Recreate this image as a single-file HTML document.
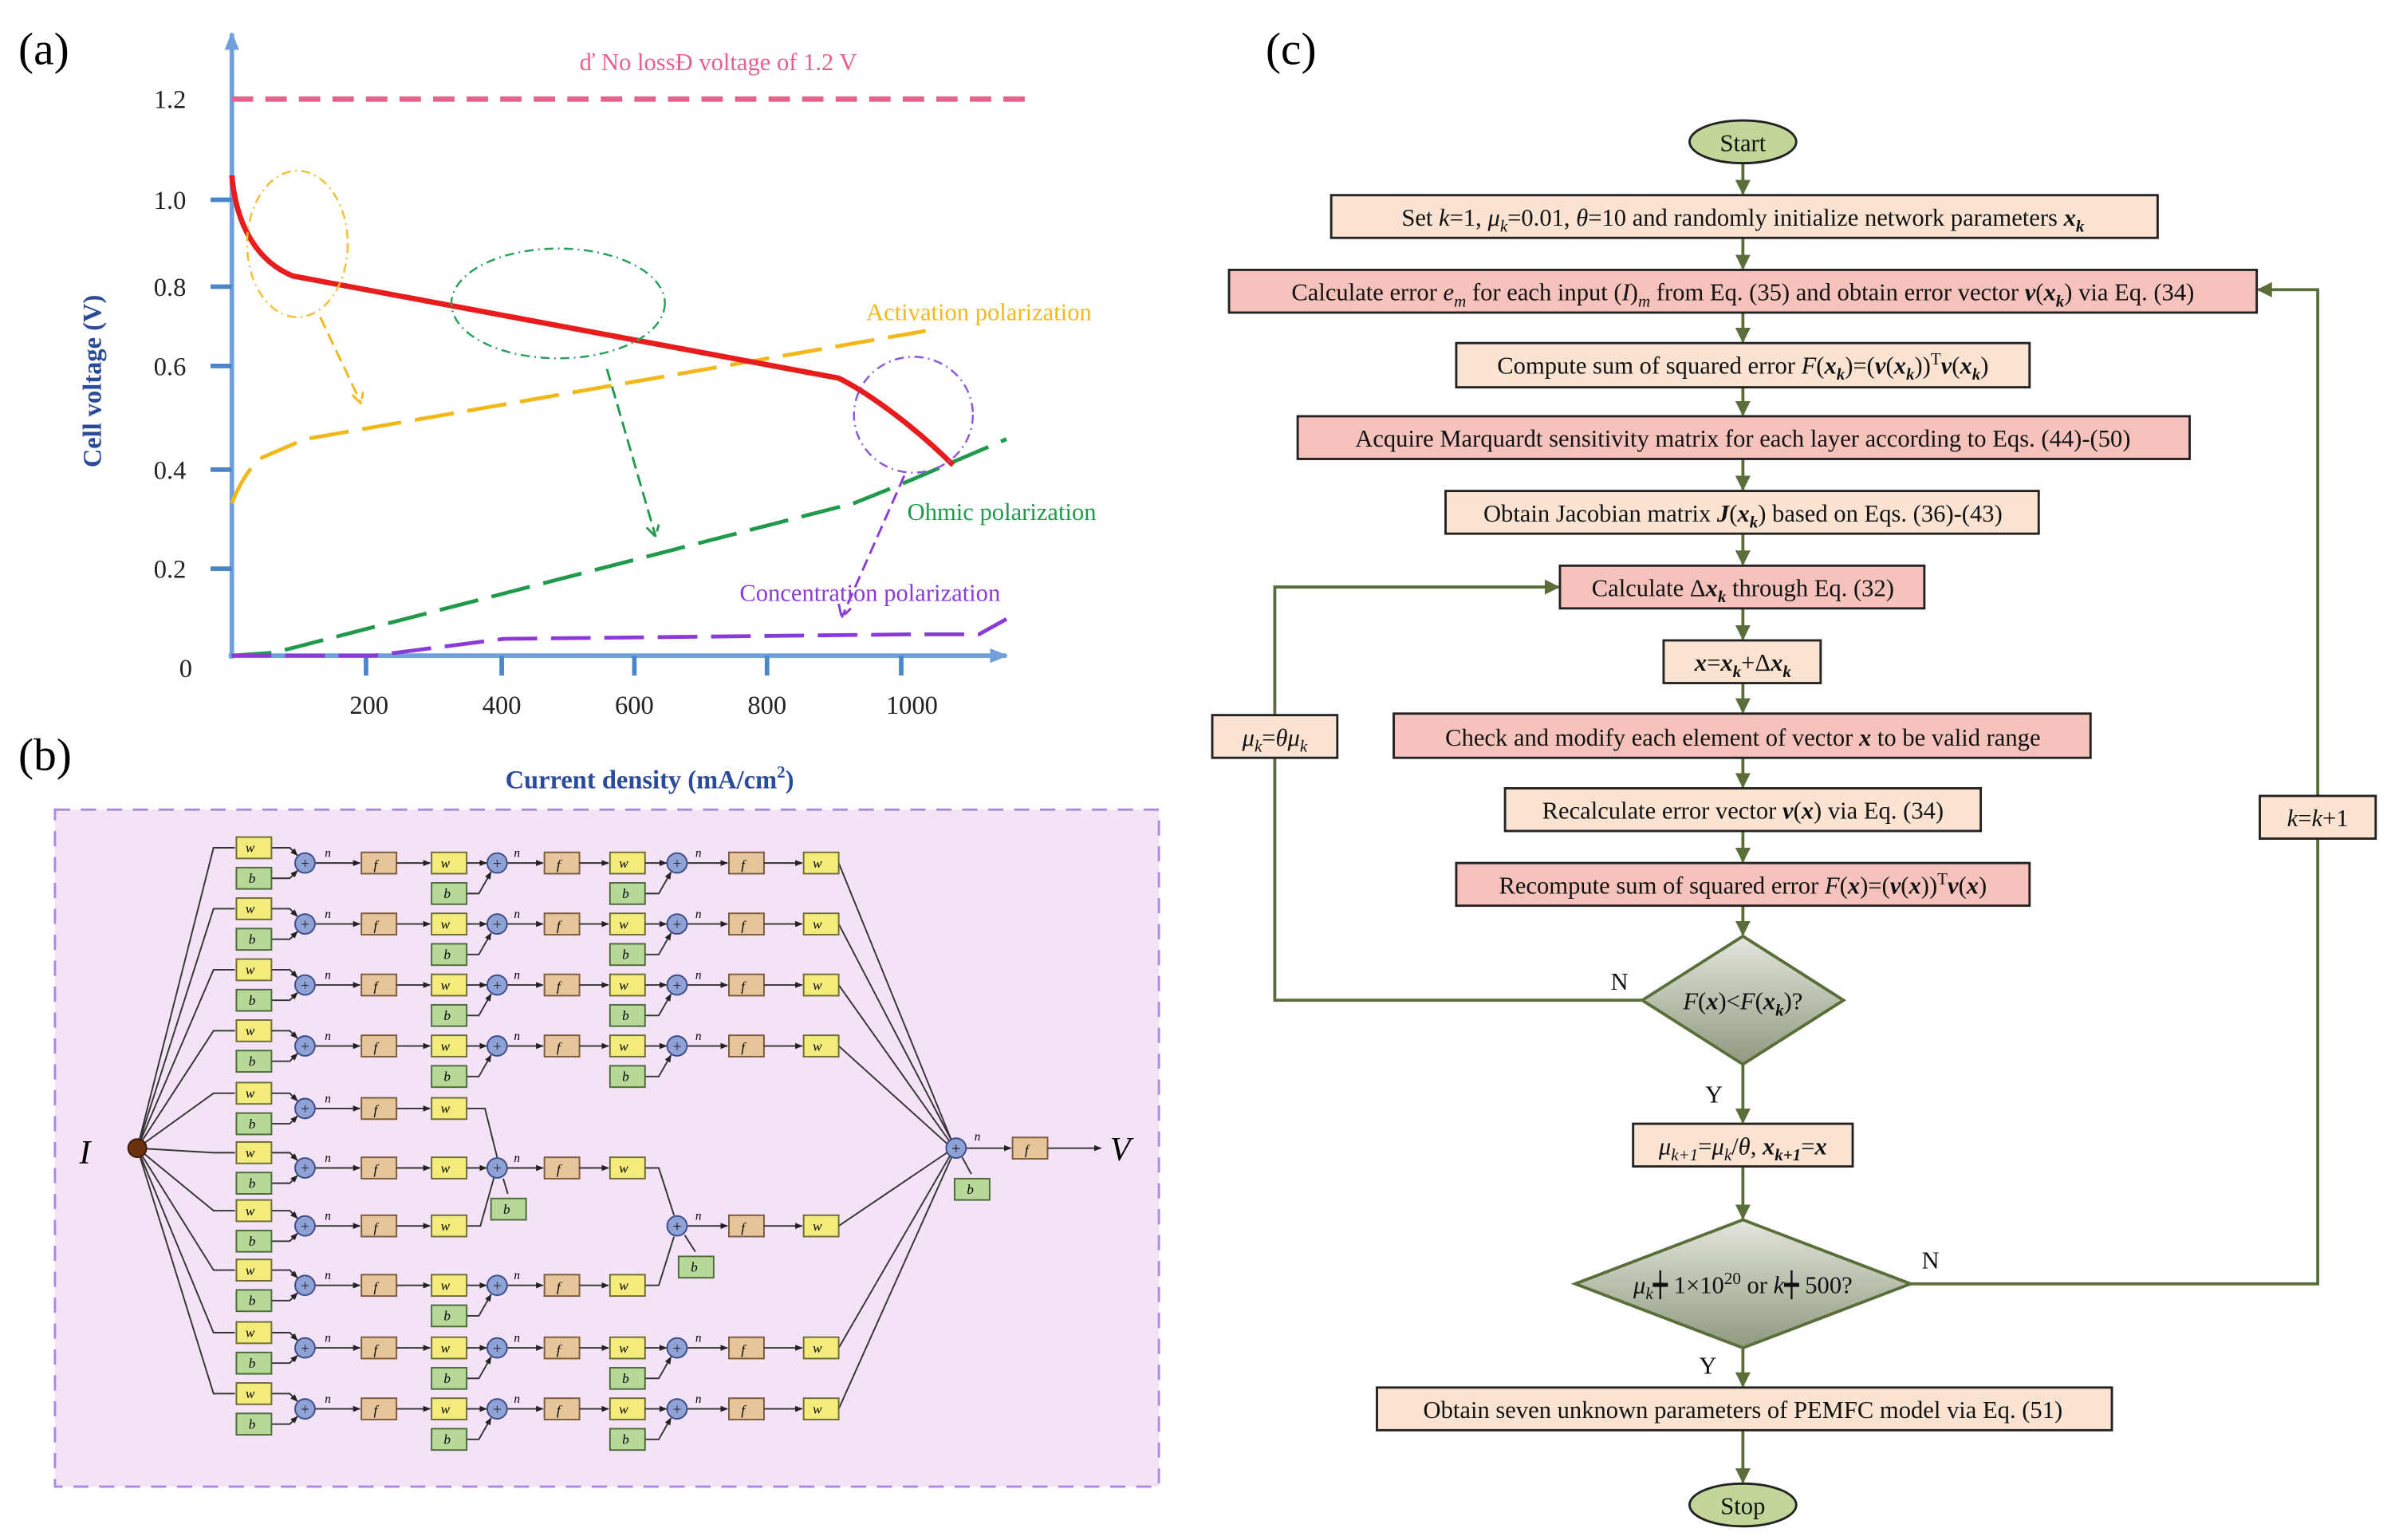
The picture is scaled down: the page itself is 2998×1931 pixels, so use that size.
<!DOCTYPE html>
<html><head><meta charset="utf-8"><style>
html,body{margin:0;padding:0;background:#fff}
svg{display:block}
text{font-family:"Liberation Serif",serif}
</style></head><body>
<svg width="2998" height="1931" viewBox="0 0 1568 1010" xmlns="http://www.w3.org/2000/svg">
<defs>
<marker id="ab" viewBox="0 0 10 10" refX="9" refY="5" markerWidth="4" markerHeight="4" orient="auto"><path d="M0,1 L10,5 L0,9z" fill="#6fa0dc"/></marker>
<marker id="ak" viewBox="0 0 10 10" refX="9" refY="5" markerWidth="5" markerHeight="5" orient="auto"><path d="M0,1 L10,5 L0,9z" fill="#222"/></marker>
<marker id="ag" viewBox="0 0 10 10" refX="9" refY="5" markerWidth="5" markerHeight="5" orient="auto"><path d="M0,0 L10,5 L0,10z" fill="#5a6e3a"/></marker>
<linearGradient id="dg" x1="0" y1="0" x2="0" y2="1"><stop offset="0" stop-color="#e3e6dc"/><stop offset="1" stop-color="#8f9a80"/></linearGradient>
<g id="gin">
 <polyline points="178,-10 190,-10 195,-5" fill="none" stroke="#333" stroke-width="1" marker-end="url(#ak)"/>
 <polyline points="178,10 190,10 195,5" fill="none" stroke="#333" stroke-width="1" marker-end="url(#ak)"/>
 <rect x="155" y="-17" width="23" height="14" fill="#f4ec7a" stroke="#6b6b3a" stroke-width="1"/>
 <text x="161" y="-7" font-size="9" font-style="italic">w</text>
 <rect x="155" y="3" width="23" height="14" fill="#b6d99a" stroke="#4a6a3a" stroke-width="1"/>
 <text x="163" y="13" font-size="9" font-style="italic">b</text>
 <circle cx="200" cy="0" r="6.5" fill="#8ea2d6" stroke="#3a4a8a" stroke-width="1"/>
 <text x="200" y="3.5" font-size="10" text-anchor="middle" fill="#223">+</text>
 <text x="213" y="-4" font-size="8" font-style="italic">n</text>
 <line x1="207" y1="0" x2="236" y2="0" stroke="#333" stroke-width="1" marker-end="url(#ak)"/>
 <rect x="237" y="-7" width="23" height="14" fill="#e6c59b" stroke="#7a5a3a" stroke-width="1"/>
 <text x="245" y="4" font-size="9" font-style="italic">f</text>
 <line x1="260" y1="0" x2="282" y2="0" stroke="#333" stroke-width="1" marker-end="url(#ak)"/>
</g>
<g id="gw2">
 <rect x="283" y="-7" width="23" height="14" fill="#f4ec7a" stroke="#6b6b3a" stroke-width="1"/>
 <text x="289" y="3" font-size="9" font-style="italic">w</text>
</g>
<g id="gb2">
 <polyline points="306,20 314,20 322,6" fill="none" stroke="#333" stroke-width="1" marker-end="url(#ak)"/>
 <rect x="283" y="13" width="23" height="14" fill="#b6d99a" stroke="#4a6a3a" stroke-width="1"/>
 <text x="291" y="23" font-size="9" font-style="italic">b</text>
</g>
<g id="gp2">
 <line x1="306" y1="0" x2="319" y2="0" stroke="#333" stroke-width="1" marker-end="url(#ak)"/>
 <circle cx="326" cy="0" r="6.5" fill="#8ea2d6" stroke="#3a4a8a" stroke-width="1"/>
 <text x="326" y="3.5" font-size="10" text-anchor="middle" fill="#223">+</text>
 <text x="337" y="-4" font-size="8" font-style="italic">n</text>
 <line x1="333" y1="0" x2="356" y2="0" stroke="#333" stroke-width="1" marker-end="url(#ak)"/>
 <rect x="357" y="-7" width="23" height="14" fill="#e6c59b" stroke="#7a5a3a" stroke-width="1"/>
 <text x="365" y="4" font-size="9" font-style="italic">f</text>
 <line x1="380" y1="0" x2="399" y2="0" stroke="#333" stroke-width="1" marker-end="url(#ak)"/>
 <rect x="400" y="-7" width="23" height="14" fill="#f4ec7a" stroke="#6b6b3a" stroke-width="1"/>
 <text x="406" y="3" font-size="9" font-style="italic">w</text>
</g>
<g id="g3">
 <line x1="423" y1="0" x2="437" y2="0" stroke="#333" stroke-width="1" marker-end="url(#ak)"/>
 <polyline points="423,20 432,20 440,6" fill="none" stroke="#333" stroke-width="1" marker-end="url(#ak)"/>
 <rect x="400" y="13" width="23" height="14" fill="#b6d99a" stroke="#4a6a3a" stroke-width="1"/>
 <text x="408" y="23" font-size="9" font-style="italic">b</text>
 <circle cx="444" cy="0" r="6.5" fill="#8ea2d6" stroke="#3a4a8a" stroke-width="1"/>
 <text x="444" y="3.5" font-size="10" text-anchor="middle" fill="#223">+</text>
 <text x="456" y="-4" font-size="8" font-style="italic">n</text>
 <line x1="451" y1="0" x2="477" y2="0" stroke="#333" stroke-width="1" marker-end="url(#ak)"/>
 <rect x="478" y="-7" width="23" height="14" fill="#e6c59b" stroke="#7a5a3a" stroke-width="1"/>
 <text x="486" y="4" font-size="9" font-style="italic">f</text>
 <line x1="501" y1="0" x2="526" y2="0" stroke="#333" stroke-width="1" marker-end="url(#ak)"/>
 <rect x="527" y="-7" width="23" height="14" fill="#f4ec7a" stroke="#6b6b3a" stroke-width="1"/>
 <text x="533" y="3" font-size="9" font-style="italic">w</text>
</g>
</defs>

<!-- Panel (a) -->
<text x="12" y="42" font-size="30">(a)</text>
<line x1="152" y1="432" x2="152" y2="22" stroke="#6fa0dc" stroke-width="3" marker-end="url(#ab)"/>
<line x1="150" y1="430" x2="660" y2="430" stroke="#6fa0dc" stroke-width="3" marker-end="url(#ab)"/>
<g stroke="#4a86c8" stroke-width="3">
<line x1="138" y1="131" x2="152" y2="131"/><line x1="138" y1="188" x2="152" y2="188"/><line x1="138" y1="240" x2="152" y2="240"/><line x1="138" y1="308" x2="152" y2="308"/><line x1="138" y1="373" x2="152" y2="373"/>
<line x1="240" y1="430" x2="240" y2="443"/><line x1="329" y1="430" x2="329" y2="443"/><line x1="416" y1="430" x2="416" y2="443"/><line x1="503" y1="430" x2="503" y2="443"/><line x1="591" y1="430" x2="591" y2="443"/>
</g>
<g font-size="17" fill="#222" text-anchor="end">
<text x="122" y="71">1.2</text><text x="122" y="137">1.0</text><text x="122" y="194">0.8</text><text x="122" y="246">0.6</text><text x="122" y="314">0.4</text><text x="122" y="379">0.2</text><text x="126" y="444">0</text>
</g>
<g font-size="17" fill="#222" text-anchor="middle">
<text x="242" y="468">200</text><text x="329" y="468">400</text><text x="416" y="468">600</text><text x="503" y="468">800</text><text x="598" y="468">1000</text>
</g>
<text transform="translate(66,250) rotate(-90)" font-size="17" font-weight="bold" fill="#2a4a9a" text-anchor="middle">Cell voltage (V)</text>
<text x="426" y="517" font-size="17" font-weight="bold" fill="#2a4a9a" text-anchor="middle">Current density (mA/cm<tspan dy="-7" font-size="11">2</tspan><tspan dy="7">)</tspan></text>
<line x1="152" y1="65" x2="672" y2="65" stroke="#e8608a" stroke-width="3.5" stroke-dasharray="14,8"/>
<text x="380" y="46" font-size="16" fill="#e8608a">ď No lossĐ  voltage of 1.2 V</text>
<!-- curves -->
<path d="M152,330 C158,315 165,305 172,300 L200,288 L607,217" fill="none" stroke="#f2b81a" stroke-width="2.5" stroke-dasharray="26,9"/>
<path d="M152,430 L180,428 L560,330 L590,318 L660,288" fill="none" stroke="#1f9a4a" stroke-width="2.5" stroke-dasharray="26,9"/>
<path d="M152,430 L245,430 L330,419 L600,416 L642,416 L660,406" fill="none" stroke="#8a3ad8" stroke-width="2.5" stroke-dasharray="26,9"/>
<path d="M152,115 C155,150 170,172 192,181 L550,248 C570,258 600,280 625,305" fill="none" stroke="#e81c1c" stroke-width="3.5"/>
<ellipse cx="195" cy="160" rx="33" ry="48" fill="none" stroke="#f2c030" stroke-width="1.3" stroke-dasharray="6,3,1,3"/>
<ellipse cx="366" cy="199" rx="70" ry="36" fill="none" stroke="#2aa060" stroke-width="1.3" stroke-dasharray="6,3,1,3"/>
<ellipse cx="599" cy="272" rx="39" ry="38" fill="none" stroke="#8a5ad8" stroke-width="1.3" stroke-dasharray="6,3,1,3"/>
<path d="M210,208 L237,265 M231,259 L237,265 L238,257" fill="none" stroke="#f2b81a" stroke-width="1.5" stroke-dasharray="8,4"/>
<path d="M398,242 L430,352 M424,346 L430,352 L432,344" fill="none" stroke="#1f9a4a" stroke-width="1.5" stroke-dasharray="8,4"/>
<path d="M593,312 L552,405 M550,396 L552,405 L558,399" fill="none" stroke="#8a3ad8" stroke-width="1.5" stroke-dasharray="8,4"/>
<text x="568" y="210" font-size="16" fill="#f2b81a">Activation polarization</text>
<text x="595" y="341" font-size="16" fill="#1f9a4a">Ohmic polarization</text>
<text x="485" y="394" font-size="16" fill="#8a3ad8">Concentration polarization</text>

<!-- Panel (b) -->
<text x="12" y="505" font-size="30">(b)</text>
<rect x="36" y="531" width="724" height="444" fill="#f4e2f6" stroke="#a88ae0" stroke-width="1.5" stroke-dasharray="10,7"/>
<text x="52" y="763" font-size="22" font-style="italic">I</text>
<g stroke="#333" stroke-width="1" fill="none">
<polyline points="90,753 140,556 154,556"/><polyline points="90,753 140,596 154,596"/><polyline points="90,753 140,636 154,636"/><polyline points="90,753 140,676 154,676"/><polyline points="90,753 140,717 154,717"/><polyline points="90,753 140,756 154,756"/><polyline points="90,753 140,794 154,794"/><polyline points="90,753 140,833 154,833"/><polyline points="90,753 140,874 154,874"/><polyline points="90,753 140,914 154,914"/>
<!-- outputs to final sum -->
<line x1="550" y1="566" x2="624" y2="748"/><line x1="550" y1="606" x2="624" y2="748"/><line x1="550" y1="646" x2="623" y2="749"/><line x1="550" y1="686" x2="621" y2="750"/><line x1="550" y1="804" x2="621" y2="756"/><line x1="550" y1="884" x2="623" y2="758"/><line x1="550" y1="924" x2="624" y2="759"/>
<!-- row5/7 w2 to plus2 row6 -->
<polyline points="306,727 318,727 326,759"/><polyline points="306,804 315,804 324,772"/>
<!-- row6 W3 to plus3, row8 W3 to plus3 -->
<polyline points="423,766 432,766 442,797"/><polyline points="423,843 432,843 442,811"/>
<!-- b2 row6 -->
<polyline points="333,783 330,773"/>
<polyline points="456,821 449,810"/>
<polyline points="637,770 631,759"/>
</g>
<circle cx="90" cy="753" r="6" fill="#6a3010" stroke="#3a1a08"/>
<use href="#gin" transform="translate(0,566)"/><use href="#gw2" transform="translate(0,566)"/><use href="#gb2" transform="translate(0,566)"/><use href="#gp2" transform="translate(0,566)"/><use href="#g3" transform="translate(0,566)"/>
<use href="#gin" transform="translate(0,606)"/><use href="#gw2" transform="translate(0,606)"/><use href="#gb2" transform="translate(0,606)"/><use href="#gp2" transform="translate(0,606)"/><use href="#g3" transform="translate(0,606)"/>
<use href="#gin" transform="translate(0,646)"/><use href="#gw2" transform="translate(0,646)"/><use href="#gb2" transform="translate(0,646)"/><use href="#gp2" transform="translate(0,646)"/><use href="#g3" transform="translate(0,646)"/>
<use href="#gin" transform="translate(0,686)"/><use href="#gw2" transform="translate(0,686)"/><use href="#gb2" transform="translate(0,686)"/><use href="#gp2" transform="translate(0,686)"/><use href="#g3" transform="translate(0,686)"/>
<use href="#gin" transform="translate(0,727)"/><use href="#gw2" transform="translate(0,727)"/>
<use href="#gin" transform="translate(0,766)"/><use href="#gw2" transform="translate(0,766)"/><use href="#gp2" transform="translate(0,766)"/>
<rect x="322" y="786" width="23" height="14" fill="#b6d99a" stroke="#4a6a3a" stroke-width="1"/><text x="330" y="796" font-size="9" font-style="italic">b</text>
<use href="#gin" transform="translate(0,804)"/><use href="#gw2" transform="translate(0,804)"/>
<g transform="translate(0,804)">
 <circle cx="444" cy="0" r="6.5" fill="#8ea2d6" stroke="#3a4a8a" stroke-width="1"/>
 <text x="444" y="3.5" font-size="10" text-anchor="middle">+</text>
 <text x="456" y="-4" font-size="8" font-style="italic">n</text>
 <line x1="451" y1="0" x2="477" y2="0" stroke="#333" stroke-width="1" marker-end="url(#ak)"/>
 <rect x="478" y="-7" width="23" height="14" fill="#e6c59b" stroke="#7a5a3a" stroke-width="1"/>
 <text x="486" y="4" font-size="9" font-style="italic">f</text>
 <line x1="501" y1="0" x2="526" y2="0" stroke="#333" stroke-width="1" marker-end="url(#ak)"/>
 <rect x="527" y="-7" width="23" height="14" fill="#f4ec7a" stroke="#6b6b3a" stroke-width="1"/>
 <text x="533" y="3" font-size="9" font-style="italic">w</text>
 <rect x="445" y="20" width="23" height="14" fill="#b6d99a" stroke="#4a6a3a" stroke-width="1"/><text x="453" y="30" font-size="9" font-style="italic">b</text>
</g>
<use href="#gin" transform="translate(0,843)"/><use href="#gw2" transform="translate(0,843)"/><use href="#gb2" transform="translate(0,843)"/><use href="#gp2" transform="translate(0,843)"/>
<use href="#gin" transform="translate(0,884)"/><use href="#gw2" transform="translate(0,884)"/><use href="#gb2" transform="translate(0,884)"/><use href="#gp2" transform="translate(0,884)"/><use href="#g3" transform="translate(0,884)"/>
<use href="#gin" transform="translate(0,924)"/><use href="#gw2" transform="translate(0,924)"/><use href="#gb2" transform="translate(0,924)"/><use href="#gp2" transform="translate(0,924)"/><use href="#g3" transform="translate(0,924)"/>
<!-- final -->
<circle cx="627" cy="753" r="6.5" fill="#8ea2d6" stroke="#3a4a8a" stroke-width="1"/>
<text x="627" y="756.5" font-size="10" text-anchor="middle">+</text>
<text x="639" y="748" font-size="8" font-style="italic">n</text>
<line x1="634" y1="753" x2="663" y2="753" stroke="#333" stroke-width="1" marker-end="url(#ak)"/>
<rect x="664" y="746" width="23" height="14" fill="#e6c59b" stroke="#7a5a3a" stroke-width="1"/><text x="672" y="757" font-size="9" font-style="italic">f</text>
<line x1="687" y1="753" x2="722" y2="753" stroke="#333" stroke-width="1" marker-end="url(#ak)"/>
<rect x="626" y="773" width="23" height="14" fill="#b6d99a" stroke="#4a6a3a" stroke-width="1"/><text x="634" y="783" font-size="9" font-style="italic">b</text>
<text x="728" y="761" font-size="22" font-style="italic">V</text>

<!-- Panel (c) -->
<text x="830" y="42" font-size="30">(c)</text>
<g stroke="#5a6e3a" stroke-width="2" fill="none">
<line x1="1143" y1="107" x2="1143" y2="127" marker-end="url(#ag)"/>
<line x1="1143" y1="156" x2="1143" y2="176" marker-end="url(#ag)"/>
<line x1="1143" y1="205" x2="1143" y2="224" marker-end="url(#ag)"/>
<line x1="1143" y1="254" x2="1143" y2="272" marker-end="url(#ag)"/>
<line x1="1143" y1="301" x2="1143" y2="321" marker-end="url(#ag)"/>
<line x1="1143" y1="350" x2="1143" y2="370" marker-end="url(#ag)"/>
<line x1="1143" y1="399" x2="1143" y2="419" marker-end="url(#ag)"/>
<line x1="1143" y1="448" x2="1143" y2="467" marker-end="url(#ag)"/>
<line x1="1143" y1="497" x2="1143" y2="516" marker-end="url(#ag)"/>
<line x1="1143" y1="545" x2="1143" y2="565" marker-end="url(#ag)"/>
<line x1="1143" y1="594" x2="1143" y2="613" marker-end="url(#ag)"/>
<line x1="1143" y1="698" x2="1143" y2="736" marker-end="url(#ag)"/>
<line x1="1143" y1="765" x2="1143" y2="799" marker-end="url(#ag)"/>
<line x1="1143" y1="884" x2="1143" y2="909" marker-end="url(#ag)"/>
<line x1="1143" y1="938" x2="1143" y2="972" marker-end="url(#ag)"/>
<polyline points="1077,656 836,656 836,385 1022,385" marker-end="url(#ag)"/>
<polyline points="1253,842 1520,842 1520,190 1481,190" marker-end="url(#ag)"/>
</g>
<g stroke="#222" stroke-width="1.5" font-size="16">
<ellipse cx="1143" cy="93" rx="35" ry="14" fill="#c3d69a"/>
<rect x="873" y="128" width="542" height="28" fill="#fbe3d2"/>
<rect x="806" y="177" width="674" height="28" fill="#f5c3bb"/>
<rect x="955" y="225" width="376" height="29" fill="#fbe3d2"/>
<rect x="851" y="273" width="585" height="28" fill="#f5c3bb"/>
<rect x="948" y="322" width="389" height="28" fill="#fbe3d2"/>
<rect x="1023" y="371" width="239" height="28" fill="#f5c3bb"/>
<rect x="1091" y="420" width="103" height="28" fill="#fbe3d2"/>
<rect x="914" y="468" width="457" height="29" fill="#f5c3bb"/>
<rect x="987" y="517" width="312" height="28" fill="#fbe3d2"/>
<rect x="955" y="566" width="376" height="28" fill="#f5c3bb"/>
<rect x="795" y="469" width="82" height="28" fill="#fbe3d2"/>
<rect x="1482" y="522" width="76" height="28" fill="#fbe3d2"/>
<rect x="1071" y="737" width="144" height="28" fill="#fbe3d2"/>
<rect x="903" y="910" width="482" height="28" fill="#fbe3d2"/>
<ellipse cx="1143" cy="987" rx="35" ry="14" fill="#c3d69a"/>
</g>
<polygon points="1143,614 1209,656 1143,698 1077,656" fill="url(#dg)" stroke="#5a6e3a" stroke-width="2"/>
<polygon points="1143,800 1253,842 1143,884 1033,842" fill="url(#dg)" stroke="#5a6e3a" stroke-width="2"/>
<g font-size="16" fill="#111" text-anchor="middle">
<text x="1143" y="99">Start</text>
<text x="1143" y="148">Set <tspan font-style="italic">k</tspan>=1, <tspan font-style="italic">μ<tspan font-size="11" dy="4">k</tspan></tspan><tspan dy="-4">=0.01, </tspan><tspan font-style="italic">θ</tspan>=10 and randomly initialize network parameters <tspan font-weight="bold" font-style="italic">x<tspan font-size="11" dy="4">k</tspan></tspan></text>
<text x="1143" y="197">Calculate error <tspan font-style="italic">e<tspan font-size="11" dy="4">m</tspan></tspan><tspan dy="-4"> for each input (</tspan><tspan font-style="italic">I</tspan>)<tspan font-style="italic" font-size="11" dy="4">m</tspan><tspan dy="-4"> from Eq. (35) and obtain error vector </tspan><tspan font-weight="bold" font-style="italic">v</tspan>(<tspan font-weight="bold" font-style="italic">x<tspan font-size="11" dy="4">k</tspan></tspan><tspan dy="-4">) via Eq. (34)</tspan></text>
<text x="1143" y="245">Compute sum of squared error <tspan font-style="italic">F</tspan>(<tspan font-weight="bold" font-style="italic">x<tspan font-size="11" dy="4">k</tspan></tspan><tspan dy="-4">)=(</tspan><tspan font-weight="bold" font-style="italic">v</tspan>(<tspan font-weight="bold" font-style="italic">x<tspan font-size="11" dy="4">k</tspan></tspan><tspan dy="-4">))</tspan><tspan font-size="11" dy="-6">T</tspan><tspan font-weight="bold" font-style="italic" dy="6">v</tspan>(<tspan font-weight="bold" font-style="italic">x<tspan font-size="11" dy="4">k</tspan></tspan><tspan dy="-4">)</tspan></text>
<text x="1143" y="293">Acquire Marquardt sensitivity matrix for each layer according to Eqs. (44)-(50)</text>
<text x="1143" y="342">Obtain Jacobian matrix <tspan font-weight="bold" font-style="italic">J</tspan>(<tspan font-weight="bold" font-style="italic">x<tspan font-size="11" dy="4">k</tspan></tspan><tspan dy="-4">) based on Eqs. (36)-(43)</tspan></text>
<text x="1143" y="391">Calculate Δ<tspan font-weight="bold" font-style="italic">x<tspan font-size="11" dy="4">k</tspan></tspan><tspan dy="-4"> through Eq. (32)</tspan></text>
<text x="1143" y="440"><tspan font-weight="bold" font-style="italic">x</tspan>=<tspan font-weight="bold" font-style="italic">x<tspan font-size="11" dy="4">k</tspan></tspan><tspan dy="-4">+Δ</tspan><tspan font-weight="bold" font-style="italic">x<tspan font-size="11" dy="4">k</tspan></tspan></text>
<text x="1143" y="489">Check and modify each element of vector <tspan font-weight="bold" font-style="italic">x</tspan> to be valid range</text>
<text x="1143" y="537">Recalculate error vector <tspan font-weight="bold" font-style="italic">v</tspan>(<tspan font-weight="bold" font-style="italic">x</tspan>) via Eq. (34)</text>
<text x="1143" y="586">Recompute sum of squared error <tspan font-style="italic">F</tspan>(<tspan font-weight="bold" font-style="italic">x</tspan>)=(<tspan font-weight="bold" font-style="italic">v</tspan>(<tspan font-weight="bold" font-style="italic">x</tspan>))<tspan font-size="11" dy="-6">T</tspan><tspan font-weight="bold" font-style="italic" dy="6">v</tspan>(<tspan font-weight="bold" font-style="italic">x</tspan>)</text>
<text x="1143" y="662"><tspan font-style="italic">F</tspan>(<tspan font-weight="bold" font-style="italic">x</tspan>)&lt;<tspan font-style="italic">F</tspan>(<tspan font-weight="bold" font-style="italic">x<tspan font-size="11" dy="4">k</tspan></tspan><tspan dy="-4">)?</tspan></text>
<text x="836" y="489"><tspan font-style="italic">μ<tspan font-size="11" dy="4">k</tspan></tspan><tspan dy="-4">=</tspan><tspan font-style="italic">θμ<tspan font-size="11" dy="4">k</tspan></tspan></text>
<text x="1520" y="542"><tspan font-style="italic">k</tspan>=<tspan font-style="italic">k</tspan>+1</text>
<text x="1143" y="757"><tspan font-style="italic">μ<tspan font-size="11" dy="4">k+1</tspan></tspan><tspan dy="-4">=</tspan><tspan font-style="italic">μ<tspan font-size="11" dy="4">k</tspan></tspan><tspan dy="-4">/</tspan><tspan font-style="italic">θ</tspan>, <tspan font-weight="bold" font-style="italic">x<tspan font-size="11" dy="4">k+1</tspan></tspan><tspan dy="-4">=</tspan><tspan font-weight="bold" font-style="italic">x</tspan></text>
<text x="1143" y="848"><tspan font-style="italic">μ<tspan font-size="11" dy="4">k</tspan></tspan><tspan dy="-4">┿ 1×10</tspan><tspan font-size="11" dy="-6">20</tspan><tspan dy="6">  or </tspan><tspan font-style="italic">k</tspan>┿ 500?</text>
<text x="1143" y="930">Obtain seven unknown parameters of PEMFC model via Eq. (51)</text>
<text x="1143" y="993">Stop</text>
<text x="1062" y="649">N</text>
<text x="1124" y="723">Y</text>
<text x="1266" y="832">N</text>
<text x="1120" y="901">Y</text>
</g>
</svg>
</body></html>
